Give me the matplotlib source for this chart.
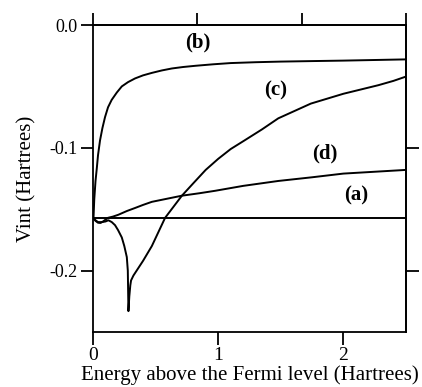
import matplotlib
matplotlib.use('Agg')
import matplotlib.pyplot as plt

# curve (a): constant level
a_x = [0.0, 2.5]
a_y = [-0.157, -0.157]

# curve (b)
b_x = [0.004, 0.01, 0.02, 0.03, 0.04, 0.056, 0.075, 0.096, 0.12, 0.149, 0.19, 0.23, 0.28,
       0.336, 0.4, 0.47, 0.55, 0.63, 0.72, 0.82, 0.96, 1.1, 1.3, 1.5, 1.74, 2.0, 2.25, 2.5]
b_y = [-0.157, -0.142, -0.127, -0.117, -0.106, -0.094, -0.084, -0.075, -0.067, -0.061,
       -0.055, -0.050, -0.0465, -0.0435, -0.041, -0.039, -0.037, -0.0354, -0.0342, -0.0332,
       -0.032, -0.031, -0.0303, -0.0298, -0.0294, -0.029, -0.0285, -0.028]

# curve (c)
c_x = [0.0, 0.02, 0.04, 0.07, 0.1, 0.123, 0.15, 0.176, 0.2, 0.23, 0.25, 0.27, 0.278, 0.283,
       0.29, 0.298, 0.304, 0.323, 0.4, 0.47, 0.576, 0.71, 0.8, 0.9, 1.0, 1.1, 1.21, 1.35,
       1.48, 1.61, 1.74, 1.87, 2.0, 2.14, 2.28, 2.4, 2.5]
c_y = [-0.157, -0.159, -0.1605, -0.1605, -0.160, -0.159, -0.1605, -0.163, -0.167, -0.173,
       -0.180, -0.189, -0.200, -0.233, -0.221, -0.212, -0.208, -0.204, -0.192, -0.180,
       -0.157, -0.139, -0.129, -0.118, -0.109, -0.101, -0.094, -0.085, -0.076, -0.070,
       -0.064, -0.060, -0.056, -0.0525, -0.049, -0.0455, -0.042]

# curve (d)
d_x = [0.0, 0.02, 0.04, 0.06, 0.08, 0.1, 0.12, 0.16, 0.203, 0.27, 0.336, 0.4, 0.47, 0.59,
       0.71, 0.85, 0.976, 1.2, 1.48, 1.75, 2.0, 2.25, 2.5]
d_y = [-0.157, -0.1595, -0.161, -0.1612, -0.160, -0.1585, -0.157, -0.156, -0.1545,
       -0.1515, -0.149, -0.1465, -0.144, -0.1415, -0.139, -0.137, -0.135, -0.131, -0.127,
       -0.124, -0.121, -0.1195, -0.118]

labels = ['(a)', '(b)', '(c)', '(d)']
label_x = [2.1, 0.84, 1.46, 1.85]
label_y = [-0.139, -0.014, -0.053, -0.105]

x_ticks = [0, 1, 2]
y_ticks = [0.0, -0.1, -0.2]
y_tick_labels = ['0.0', '-0.1', '-0.2']
top_ticks = [0.0, 0.833, 1.667, 2.5]

plt.rcParams['font.family'] = ['Liberation Serif', 'DejaVu Serif']

fig = plt.figure(figsize=(4.22, 3.87), dpi=100)
ax = fig.add_axes([0.2204, 0.1421, 0.7416, 0.7933])

for xs, ys in [(a_x, a_y), (b_x, b_y), (c_x, c_y), (d_x, d_y)]:
    ax.plot(xs, ys, color='black', linewidth=1.4, solid_joinstyle='round')

for t, x, y in zip(labels, label_x, label_y):
    ax.text(x, y, t, ha='center', va='center', fontsize=15, fontweight='bold')

ax.set_xlim(0, 2.5)
ax.set_ylim(-0.25, 0.0)
ax.set_xticks(x_ticks)
ax.set_xticklabels([str(v) for v in x_ticks], fontsize=14)
ax.set_yticks(y_ticks)
ax.set_yticklabels(y_tick_labels, fontsize=13)
ax.tick_params(direction='out', length=9, width=1.3, pad=2)

ax_top = ax.secondary_xaxis('top')
ax_top.set_xticks(top_ticks)
ax_top.set_xticklabels([])
ax_top.tick_params(direction='out', length=9, width=1.3)

ax_right = ax.secondary_yaxis('right')
ax_right.set_yticks(y_ticks[1:])
ax_right.set_yticklabels([])
ax_right.tick_params(direction='out', length=9, width=1.3)

for s in ax.spines.values():
    s.set_linewidth(1.3)
ax_top.spines['top'].set_linewidth(1.3)
ax_right.spines['right'].set_linewidth(1.3)

ax.set_xlabel('Energy above the Fermi level (Hartrees)', fontsize=15, labelpad=1)
ax.set_ylabel('Vint (Hartrees)', fontsize=15, labelpad=9)

fig.savefig('out.png', dpi=100)
